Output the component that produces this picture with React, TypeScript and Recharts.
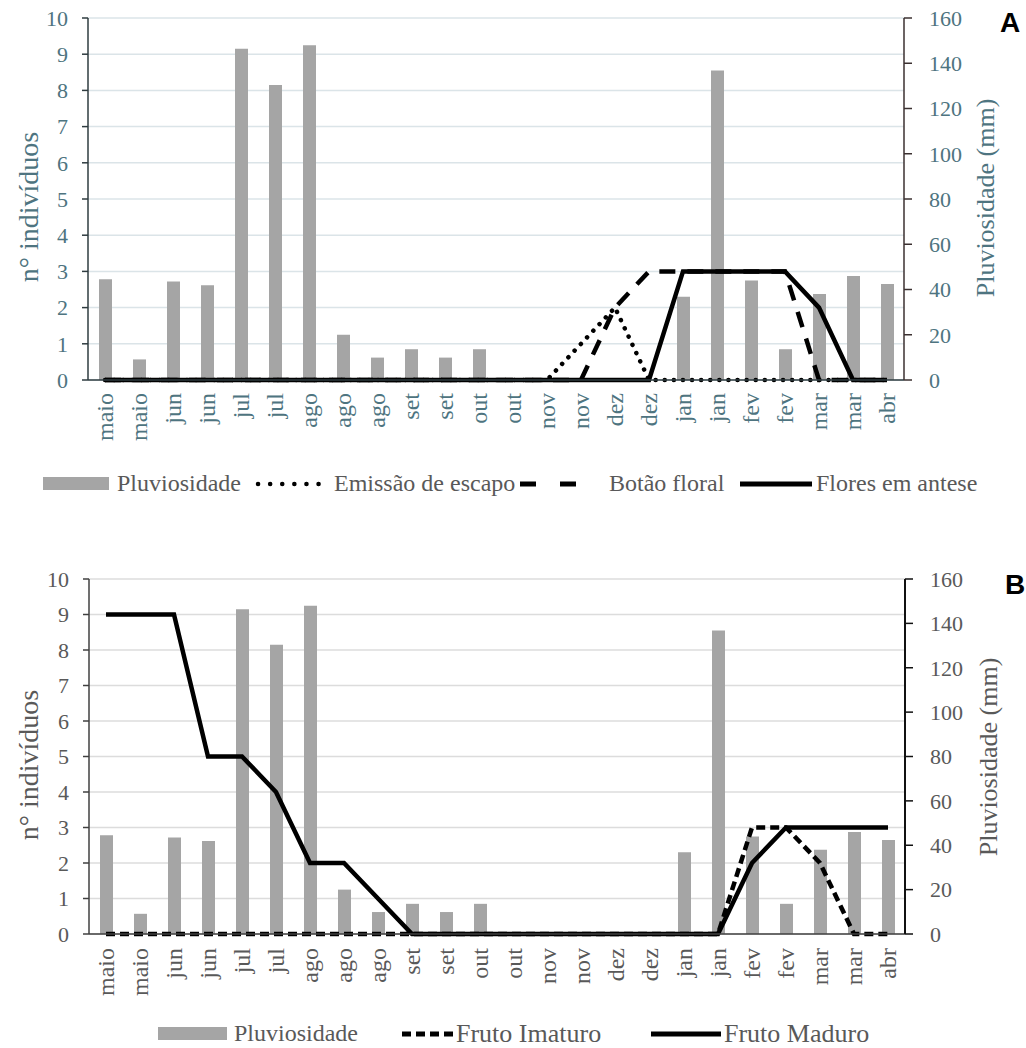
import { ComposedChart, Bar, Line, XAxis, YAxis, CartesianGrid } from "recharts";

// ── Data ──────────────────────────────────────────────────────────────────────
const months = [
  "maio", "maio", "jun", "jun", "jul", "jul", "ago", "ago", "ago", "set", "set", "out",
  "out", "nov", "nov", "dez", "dez", "jan", "jan", "fev", "fev", "mar", "mar", "abr",
];
// rainfall in mm (right axis)
const rainfall = [
  44.5, 9.1, 43.5, 41.9, 146.4, 130.4, 148, 20, 9.9, 13.6, 9.9, 13.6,
  0, 0, 0, 0, 0, 36.8, 136.8, 44, 13.6, 38, 46, 42.4,
];
// panel A: flowering phases (n individuals)
const emissaoEscapo = [0, 0, 0, 0, 0, 0, 0, 0, 0, 0, 0, 0, 0, 0, 1, 2, 0, 0, 0, 0, 0, 0, 0, 0];
const botaoFloral = [0, 0, 0, 0, 0, 0, 0, 0, 0, 0, 0, 0, 0, 0, 0, 2, 3, 3, 3, 3, 3, 0, 0, 0];
const floresAntese = [0, 0, 0, 0, 0, 0, 0, 0, 0, 0, 0, 0, 0, 0, 0, 0, 0, 3, 3, 3, 3, 2, 0, 0];
// panel B: fruiting phases
const frutoImaturo = [0, 0, 0, 0, 0, 0, 0, 0, 0, 0, 0, 0, 0, 0, 0, 0, 0, 0, 0, 3, 3, 2, 0, 0];
const frutoMaduro = [9, 9, 9, 5, 5, 4, 2, 2, 1, 0, 0, 0, 0, 0, 0, 0, 0, 0, 0, 2, 3, 3, 3, 3];

const leftTicks = [0, 1, 2, 3, 4, 5, 6, 7, 8, 9, 10];
const rightTicks = [0, 20, 40, 60, 80, 100, 120, 140, 160];

const dataA = months.map((_, i) => ({
  idx: i,
  rain: rainfall[i],
  escapo: emissaoEscapo[i],
  botao: botaoFloral[i],
  flores: floresAntese[i],
}));

const dataB = months.map((_, i) => ({
  idx: i,
  rain: rainfall[i],
  imaturo: frutoImaturo[i],
  maduro: frutoMaduro[i],
}));

// ── Styles ────────────────────────────────────────────────────────────────────
const SERIF = "'Liberation Serif', 'DejaVu Serif', serif";
const TEAL = "#4e7480";
const GRAY_TXT = "#595959";
const BAR = "#a5a5a5";

// ── Rotated month tick ────────────────────────────────────────────────────────
function MonthTick(props: any) {
  const { x, y, payload, fill } = props;
  return (
    <text
      x={x}
      y={y}
      transform={`rotate(-90, ${x}, ${y})`}
      textAnchor="end"
      dominantBaseline="central"
      fontSize={24}
      fontFamily={SERIF}
      fill={fill}
    >
      {months[payload.value]}
    </text>
  );
}

// ── Panel A ───────────────────────────────────────────────────────────────────
function PanelA() {
  return (
    <ComposedChart
      width={1026}
      height={460}
      data={dataA}
      margin={{ top: 18, right: 0, bottom: 0, left: 0 }}
    >
      <CartesianGrid vertical={false} stroke="#dbe4e8" strokeWidth={1.5} />
      <XAxis
        dataKey="idx"
        interval={0}
        height={80}
        tickSize={0}
        tickMargin={13}
        tickLine={false}
        axisLine={{ stroke: "#2f3c40", strokeWidth: 1.5 }}
        tick={<MonthTick fill={TEAL} />}
      />
      <YAxis
        domain={[0, 10]}
        ticks={leftTicks}
        width={88}
        tickSize={6}
        tickMargin={14}
        axisLine={{ stroke: "#2f3c40", strokeWidth: 1.5 }}
        tickLine={{ stroke: "#2f3c40", strokeWidth: 1.5 }}
        tick={{ fontSize: 22, fill: TEAL, fontFamily: SERIF }}
      />
      <YAxis
        yAxisId="right"
        orientation="right"
        domain={[0, 160]}
        ticks={rightTicks}
        width={122}
        tickSize={8}
        tickMargin={17}
        axisLine={{ stroke: "#3b3030", strokeWidth: 1.5 }}
        tickLine={{ stroke: "#3b3030", strokeWidth: 1.5 }}
        tick={{ fontSize: 22, fill: TEAL, fontFamily: SERIF }}
      />
      <Bar yAxisId="right" dataKey="rain" fill={BAR} barSize={13} isAnimationActive={false} />
      <Line
        type="linear"
        dataKey="escapo"
        stroke="#000"
        strokeWidth={4.5}
        strokeDasharray="0.1 9"
        strokeLinecap="round"
        dot={false}
        isAnimationActive={false}
      />
      <Line
        type="linear"
        dataKey="botao"
        stroke="#000"
        strokeWidth={4.5}
        strokeDasharray="16 12"
        dot={false}
        isAnimationActive={false}
      />
      <Line
        type="linear"
        dataKey="flores"
        stroke="#000"
        strokeWidth={4.5}
        dot={false}
        isAnimationActive={false}
      />
    </ComposedChart>
  );
}

// ── Panel B ───────────────────────────────────────────────────────────────────
function PanelB() {
  return (
    <ComposedChart
      width={1026}
      height={494}
      data={dataB}
      margin={{ top: 59, right: 0, bottom: 0, left: 0 }}
    >
      <CartesianGrid vertical={false} stroke="#dcdcdc" strokeWidth={1.5} />
      <XAxis
        dataKey="idx"
        interval={0}
        height={80}
        tickSize={0}
        tickMargin={14}
        tickLine={false}
        axisLine={{ stroke: "#404040", strokeWidth: 1.5 }}
        tick={<MonthTick fill={GRAY_TXT} />}
      />
      <YAxis
        domain={[0, 10]}
        ticks={leftTicks}
        width={89}
        tickSize={6}
        tickMargin={14}
        axisLine={{ stroke: "#404040", strokeWidth: 1.5 }}
        tickLine={{ stroke: "#404040", strokeWidth: 1.5 }}
        tick={{ fontSize: 22, fill: GRAY_TXT, fontFamily: SERIF }}
      />
      <YAxis
        yAxisId="right"
        orientation="right"
        domain={[0, 160]}
        ticks={rightTicks}
        width={121}
        tickSize={8}
        tickMargin={17}
        axisLine={{ stroke: "#111", strokeWidth: 2 }}
        tickLine={{ stroke: "#111", strokeWidth: 1.5 }}
        tick={{ fontSize: 22, fill: GRAY_TXT, fontFamily: SERIF }}
      />
      <Bar yAxisId="right" dataKey="rain" fill={BAR} barSize={13} isAnimationActive={false} />
      <Line
        type="linear"
        dataKey="imaturo"
        stroke="#000"
        strokeWidth={4.5}
        strokeDasharray="9 5"
        dot={false}
        isAnimationActive={false}
      />
      <Line
        type="linear"
        dataKey="maduro"
        stroke="#000"
        strokeWidth={4.5}
        dot={false}
        isAnimationActive={false}
      />
    </ComposedChart>
  );
}

// ── Overlay: titles, legends, panel letters ───────────────────────────────────
function Overlay() {
  const t = { fontFamily: SERIF, dominantBaseline: "central" as const };
  return (
    <svg
      width={1026}
      height={1048}
      style={{ position: "absolute", left: 0, top: 0, pointerEvents: "none" }}
    >
      {/* axis titles A */}
      <text {...t} x={28} y={207} fontSize={28} fill={TEAL} textAnchor="middle" transform="rotate(-90, 28, 207)">
        n° indivíduos
      </text>
      <text {...t} x={985} y={198} fontSize={26} fill={TEAL} textAnchor="middle" transform="rotate(-90, 985, 198)">
        Pluviosidade (mm)
      </text>
      {/* axis titles B */}
      <text {...t} x={28} y={765} fontSize={28} fill={GRAY_TXT} textAnchor="middle" transform="rotate(-90, 28, 765)">
        n° indivíduos
      </text>
      <text {...t} x={988} y={757} fontSize={26} fill={GRAY_TXT} textAnchor="middle" transform="rotate(-90, 988, 757)">
        Pluviosidade (mm)
      </text>

      {/* panel letters */}
      <text x={1010} y={22} fontSize={28} fontWeight="bold" fontFamily="'Liberation Sans', Arial, sans-serif" textAnchor="middle" dominantBaseline="central" fill="#000">
        A
      </text>
      <text x={1015} y={584} fontSize={28} fontWeight="bold" fontFamily="'Liberation Sans', Arial, sans-serif" textAnchor="middle" dominantBaseline="central" fill="#000">
        B
      </text>

      {/* legend A */}
      <rect x={43} y={477} width={66} height={13} fill={BAR} />
      <text {...t} x={117} y={483} fontSize={24} fill={GRAY_TXT}>Pluviosidade</text>
      <line x1={258} y1={484} x2={330} y2={484} stroke="#000" strokeWidth={4.5} strokeDasharray="0.1 12" strokeLinecap="round" />
      <text {...t} x={334} y={483} fontSize={24} fill={GRAY_TXT}>Emissão de escapo</text>
      <line x1={520} y1={484} x2={577} y2={484} stroke="#000" strokeWidth={5} strokeDasharray="16 24" />
      <text {...t} x={609} y={483} fontSize={24} fill={GRAY_TXT}>Botão floral</text>
      <line x1={740} y1={484} x2={812} y2={484} stroke="#000" strokeWidth={5} />
      <text {...t} x={816} y={483} fontSize={24} fill={GRAY_TXT}>Flores em antese</text>

      {/* legend B */}
      <rect x={158} y={1027} width={69} height={13} fill={BAR} />
      <text {...t} x={234} y={1033} fontSize={24} fill={GRAY_TXT}>Pluviosidade</text>
      <line x1={402} y1={1034} x2={455} y2={1034} stroke="#000" strokeWidth={5} strokeDasharray="9 5" />
      <text {...t} x={456} y={1033} fontSize={26} fill={GRAY_TXT}>Fruto Imaturo</text>
      <line x1={651} y1={1034} x2={721} y2={1034} stroke="#000" strokeWidth={5} />
      <text {...t} x={724} y={1033} fontSize={26} fill={GRAY_TXT}>Fruto Maduro</text>
    </svg>
  );
}

export default function App() {
  return (
    <div
      style={{
        position: "absolute",
        left: 0,
        top: 0,
        width: 1026,
        height: 1048,
        background: "#fff",
        overflow: "hidden",
      }}
    >
      <div style={{ position: "absolute", left: 0, top: 0 }}>
        <PanelA />
      </div>
      <div style={{ position: "absolute", left: 0, top: 520 }}>
        <PanelB />
      </div>
      <Overlay />
    </div>
  );
}
